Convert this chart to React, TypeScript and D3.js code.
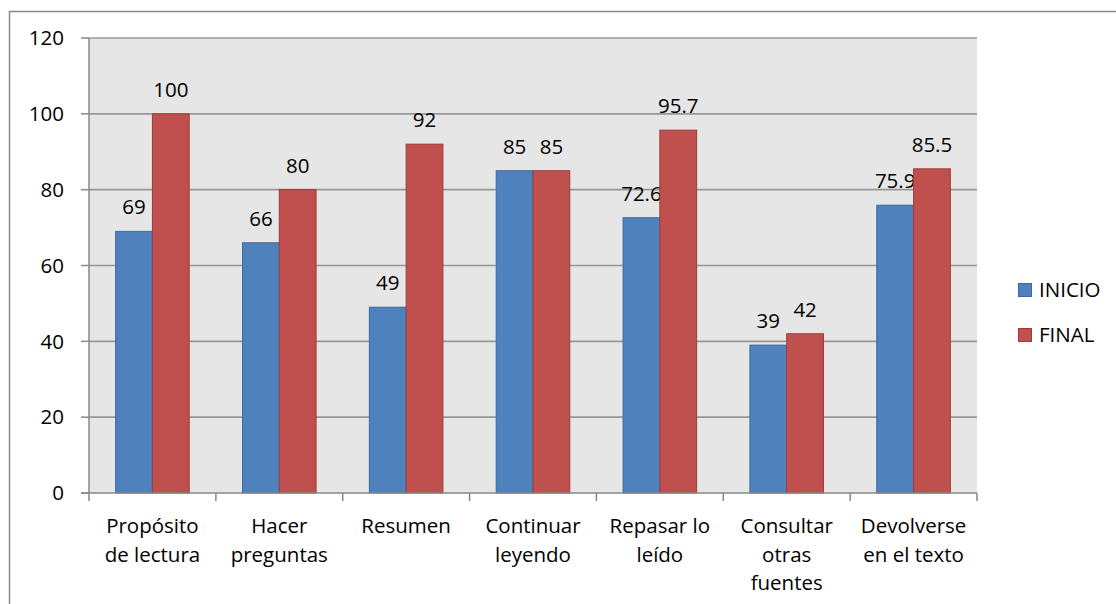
import * as d3 from "d3";

const categories = [
  ["Propósito", "de lectura"],
  ["Hacer", "preguntas"],
  ["Resumen"],
  ["Continuar", "leyendo"],
  ["Repasar lo", "leído"],
  ["Consultar", "otras", "fuentes"],
  ["Devolverse", "en el texto"],
];
const inicio = [69, 66, 49, 85, 72.6, 39, 75.9];
const final = [100, 80, 92, 85, 95.7, 42, 85.5];
const yTicks = [0, 20, 40, 60, 80, 100, 120];
const seriesNames = ["INICIO", "FINAL"];

const W = 1116;
const H = 604;
const plot = { left: 89, right: 977, top: 38, bottom: 493 };
const FONT = "'Open Sans', 'Noto Sans', sans-serif";
const FS = 20.5;
const fills = ["#4F81BD", "#C0504D"];
const strokes = ["#3D6A9F", "#9D3D3A"];

export default function App() {
  const x = d3
    .scaleBand<number>()
    .domain(d3.range(categories.length))
    .range([plot.left, plot.right]);
  const y = d3.scaleLinear().domain([0, 120]).range([plot.bottom, plot.top]);
  const barW = x.bandwidth() * 0.29;
  const series = [inicio, final];

  return (
    <svg
      width={W}
      height={H}
      style={{ position: "absolute", left: 0, top: 0, background: "#fff" }}
      fontFamily={FONT}
    >
      <rect x={9.5} y={11.5} width={1200} height={700} fill="#fff" stroke="#8a8a8a" strokeWidth={1.5} />
      <rect
        x={plot.left}
        y={plot.top}
        width={plot.right - plot.left}
        height={plot.bottom - plot.top}
        fill="#E6E6E6"
      />
      {yTicks.map((t) => (
        <g key={t}>
          {t > 0 && (
            <line x1={plot.left} x2={plot.right} y1={y(t)} y2={y(t)} stroke="#979797" strokeWidth={1.6} />
          )}
          <line x1={plot.left - 8} x2={plot.left} y1={y(t)} y2={y(t)} stroke="#898989" strokeWidth={1.5} />
          <text x={64} y={y(t)} dy="0.35em" textAnchor="end" fontSize={FS} fill="#000">
            {t}
          </text>
        </g>
      ))}
      {categories.map((lines, i) => {
        const cx = (x(i) ?? 0) + x.bandwidth() / 2;
        return (
          <g key={i}>
            {series.map((vals, s) => {
              const bx = cx - barW + s * barW;
              return (
                <g key={s}>
                  <rect
                    x={bx}
                    y={y(vals[i])}
                    width={barW}
                    height={y(0) - y(vals[i])}
                    fill={fills[s]}
                    stroke={strokes[s]}
                    strokeWidth={1}
                  />
                  <text x={bx + barW / 2} y={y(vals[i]) - 17} textAnchor="middle" fontSize={FS} fill="#000">
                    {vals[i]}
                  </text>
                </g>
              );
            })}
            <text textAnchor="middle" fontSize={FS} fill="#000">
              {lines.map((l, k) => (
                <tspan key={k} x={cx} y={533 + k * 28.5}>
                  {l}
                </tspan>
              ))}
            </text>
          </g>
        );
      })}
      {d3.range(categories.length + 1).map((i) => {
        const tx = plot.left + i * x.step();
        return <line key={i} x1={tx} x2={tx} y1={plot.bottom} y2={plot.bottom + 8} stroke="#898989" strokeWidth={1.5} />;
      })}
      <line x1={plot.left} x2={plot.left} y1={plot.top} y2={plot.bottom} stroke="#898989" strokeWidth={1.5} />
      <line x1={plot.left - 8} x2={plot.right} y1={plot.bottom} y2={plot.bottom} stroke="#898989" strokeWidth={1.5} />
      {seriesNames.map((n, s) => (
        <g key={n} transform={`translate(1018, ${283 + s * 45})`}>
          <rect x={0.5} y={0.5} width={13} height={13} fill={fills[s]} stroke={strokes[s]} />
          <text x={21} y={7} dy="0.35em" fontSize={FS} fill="#000">
            {n}
          </text>
        </g>
      ))}
    </svg>
  );
}
